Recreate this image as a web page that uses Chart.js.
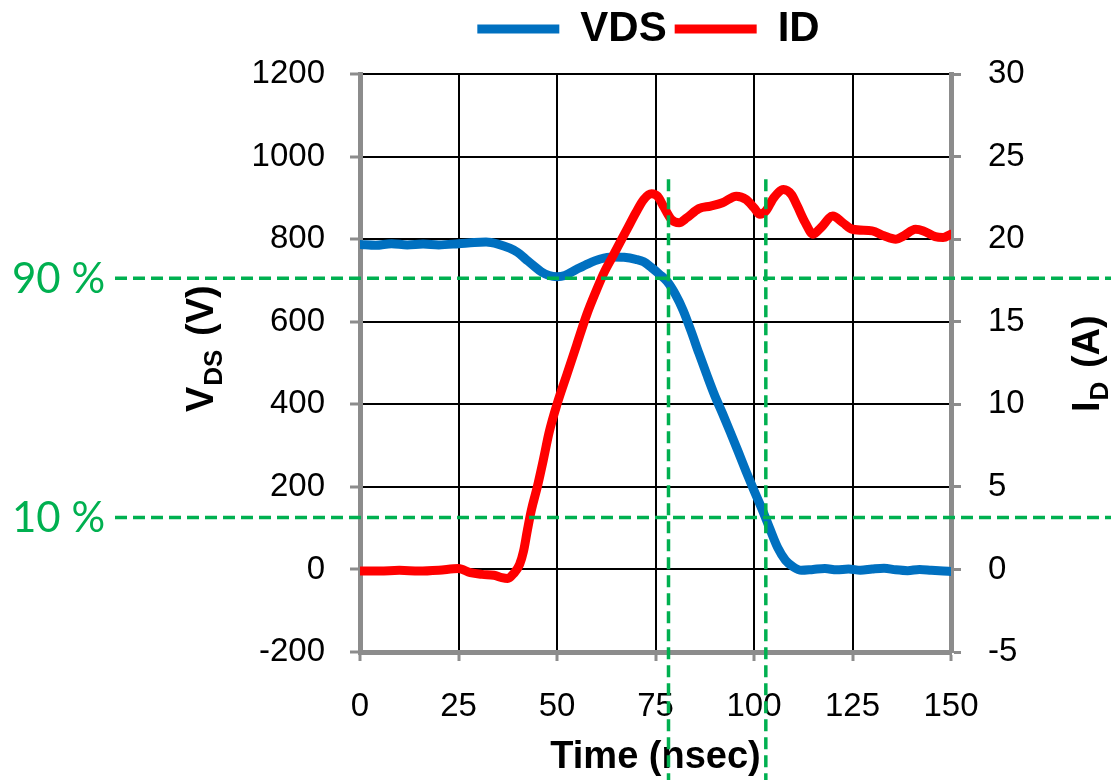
<!DOCTYPE html>
<html>
<head>
<meta charset="utf-8">
<script src="https://cdn.jsdelivr.net/npm/chart.js@4.4.0/dist/chart.umd.min.js"></script>
<style>
  html, body { margin: 0; padding: 0; background: #fff; }
  #wrap { width: 1111px; height: 780px; position: relative; }
</style>
</head>
<body>
<div id="wrap"><canvas id="chart-switching"></canvas></div>
<script>
// turn-on waveform

var timeVds = [0, 4, 8, 12, 16, 20, 25, 29, 32, 35, 38, 40, 42, 44, 46, 48, 50, 52, 55, 58, 61, 64, 67, 70, 72, 74, 76, 78, 80, 82, 84, 86, 88, 90, 92, 94, 96, 98, 100, 102, 104, 106, 108, 110, 112, 115, 118, 121, 124, 127, 130, 133, 136, 139, 142, 145, 148, 150];
var vdsValues = [787, 785, 789, 786, 788, 786, 789, 792, 793, 788, 778, 768, 752, 736, 721, 712, 709, 712, 727, 741, 752, 757, 756, 751, 745, 731, 715, 697, 667, 628, 578, 524, 472, 422, 378, 332, 285, 237, 191, 147, 99, 53, 22, 6, -2, 0, 2, -1, 1, -2, 1, 3, -1, -3, 0, -2, -4, -5];

var timeId = [0, 5, 10, 15, 20, 25, 28, 31, 34, 36, 37.5, 39, 40.5, 41.5, 42.5, 43.5, 45, 46.5, 48, 50, 52.5, 55, 57.5, 60, 62, 64, 66, 68, 70, 72, 74, 75.5, 77, 79, 81, 83, 86, 89, 92, 95.5, 98, 100, 101.5, 103, 105, 107.5, 109.5, 111, 113, 115, 117, 120, 122.5, 125, 130, 133, 136, 138, 141, 143, 146, 148, 150];
var idValues = [-0.1, -0.1, -0.05, -0.1, -0.05, 0.05, -0.2, -0.3, -0.35, -0.5, -0.55, -0.25, 0.3, 1.1, 2.4, 3.6, 5.0, 6.6, 8.3, 10.0, 11.8, 13.6, 15.4, 16.9, 18.0, 18.9, 19.8, 20.7, 21.6, 22.4, 22.75, 22.6, 22.0, 21.2, 21.0, 21.3, 21.85, 22.0, 22.2, 22.6, 22.4, 21.9, 21.5, 21.7, 22.5, 23.0, 22.7, 22.0, 21.0, 20.3, 20.7, 21.4, 21.0, 20.6, 20.5, 20.2, 20.0, 20.2, 20.6, 20.5, 20.15, 20.1, 20.3];

var seriesNames = ["VDS", "ID"];
var timeTicks = [0, 25, 50, 75, 100, 125, 150];
var vdsRange = [-200, 1200];
var idRange = [-5, 30];

// 90 % / 10 % levels of VDS and the times where they are crossed
var levelValues = [705, 126];
var levelNames = ["90 %", "10 %"];
var crossTimes = [78.3, 103];

var tickFont = { family: "'Liberation Sans Narrow', 'Liberation Sans', Arial, sans-serif", size: 33 };
var boldFamily = "'Liberation Sans', Arial, sans-serif";
var axisGrey = "#8c8c8c";

function toPoints(xs, ys) {
  return xs.map(function (x, i) { return { x: x, y: ys[i] }; });
}

function plainNumber(value) {
  return String(value);
}

function drawRotatedTitle(ctx, baseX, startY, main, sub, rest) {
  ctx.save();
  ctx.translate(baseX, startY);
  ctx.rotate(-Math.PI / 2);
  ctx.fillStyle = "#000";
  ctx.textBaseline = "alphabetic";
  ctx.textAlign = "left";
  ctx.font = "bold 38px " + boldFamily;
  ctx.fillText(main, 0, 0);
  var x = ctx.measureText(main).width + 1;
  ctx.font = "bold 26px " + boldFamily;
  ctx.fillText(sub, x, 9);
  x += ctx.measureText(sub).width + 3;
  ctx.font = "bold 38px " + boldFamily;
  ctx.fillText(rest, x, 0);
  ctx.restore();
}

var markerPlugin = {
  id: "markers",
  afterDraw: function (chart) {
    var ctx = chart.ctx;
    var xs = chart.scales.x;
    var yv = chart.scales.yV;
    ctx.save();
    ctx.strokeStyle = "#00B050";
    ctx.lineWidth = 3.5;
    ctx.setLineDash([12, 6]);
    levelValues.forEach(function (v) {
      var py = yv.getPixelForValue(v);
      ctx.beginPath();
      ctx.moveTo(115, py);
      ctx.lineTo(chart.width, py);
      ctx.stroke();
    });
    crossTimes.forEach(function (t) {
      var px = xs.getPixelForValue(t);
      ctx.beginPath();
      ctx.moveTo(px, yv.getPixelForValue(945));
      ctx.lineTo(px, chart.height);
      ctx.stroke();
    });
    ctx.setLineDash([]);
    ctx.fillStyle = "#00B050";
    ctx.font = "42px Lato, 'Open Sans', sans-serif";
    ctx.textBaseline = "alphabetic";
    levelValues.forEach(function (v, i) {
      ctx.fillText(levelNames[i], 12, yv.getPixelForValue(v) + 15);
    });
    ctx.restore();

    drawRotatedTitle(ctx, 213, 412, "V", "DS", " (V)");
    drawRotatedTitle(ctx, 1099, 412, "I", "D", " (A)");
  }
};

var ctx = document.getElementById("chart-switching").getContext("2d");

new Chart(ctx, {
  type: "line",
  data: {
    datasets: [
      {
        label: seriesNames[0],
        data: toPoints(timeVds, vdsValues),
        yAxisID: "yV",
        borderColor: "#0070C0",
        backgroundColor: "#0070C0",
        borderWidth: 9,
        borderCapStyle: "round",
        pointRadius: 0,
        cubicInterpolationMode: "monotone",
        order: 1,
      },
      {
        label: seriesNames[1],
        data: toPoints(timeId, idValues),
        yAxisID: "yI",
        borderColor: "#FF0000",
        backgroundColor: "#FF0000",
        borderWidth: 9,
        borderCapStyle: "round",
        pointRadius: 0,
        cubicInterpolationMode: "monotone",
        order: 0,
      },
    ],
  },
  options: {
    responsive: true,
    maintainAspectRatio: false,
    animation: false,
    layout: { padding: { left: 186, right: 0, top: 0, bottom: 0 } },
    plugins: {
      legend: {
        display: true,
        position: "top",
        labels: {
          usePointStyle: true,
          pointStyle: "line",
          pointStyleWidth: 82,
          padding: 8,
          color: "#000",
          font: { family: boldFamily, size: 42, weight: "bold" },
          sort: function (a, b) { return a.datasetIndex - b.datasetIndex; },
        },
      },
      // empty spacer between the legend and the plot
      subtitle: {
        display: true,
        text: "",
        weight: 500,
        font: { size: 1, lineHeight: 1 },
        padding: { top: 13, bottom: 0 },
      },
      tooltip: { enabled: false },
    },
    scales: {
      x: {
        type: "linear",
        min: timeTicks[0],
        max: timeTicks[timeTicks.length - 1],
        afterBuildTicks: function (scale) {
          scale.ticks = timeTicks.map(function (v) { return { value: v }; });
        },
        afterFit: function (scale) { scale.height = 128; },
        grid: { color: "#000", lineWidth: 2, tickColor: axisGrey, tickWidth: 3, tickLength: 9 },
        border: { color: axisGrey, width: 5 },
        ticks: { color: "#000", font: tickFont, padding: 26, maxRotation: 0, callback: plainNumber },
        title: {
          display: true,
          text: "Time (nsec)",
          color: "#000",
          font: { family: boldFamily, size: 38, weight: "bold" },
          padding: { top: 0, bottom: 0 },
        },
      },
      yV: {
        type: "linear",
        position: "left",
        min: vdsRange[0],
        max: vdsRange[1],
        afterFit: function (scale) { scale.width = 174; },
        grid: { color: "#000", lineWidth: 2, tickColor: axisGrey, tickWidth: 3, tickLength: 10 },
        border: { color: axisGrey, width: 5 },
        ticks: { stepSize: 200, color: "#000", font: tickFont, padding: 25, callback: plainNumber },
      },
      yI: {
        type: "linear",
        position: "right",
        min: idRange[0],
        max: idRange[1],
        afterFit: function (scale) { scale.width = 160; },
        grid: { drawOnChartArea: false, tickColor: axisGrey, tickWidth: 3, tickLength: 10 },
        border: { color: axisGrey, width: 5 },
        ticks: { stepSize: 5, color: "#000", font: tickFont, padding: 27, callback: plainNumber },
      },
    },
  },
  plugins: [markerPlugin],
});
</script>
</body>
</html>
